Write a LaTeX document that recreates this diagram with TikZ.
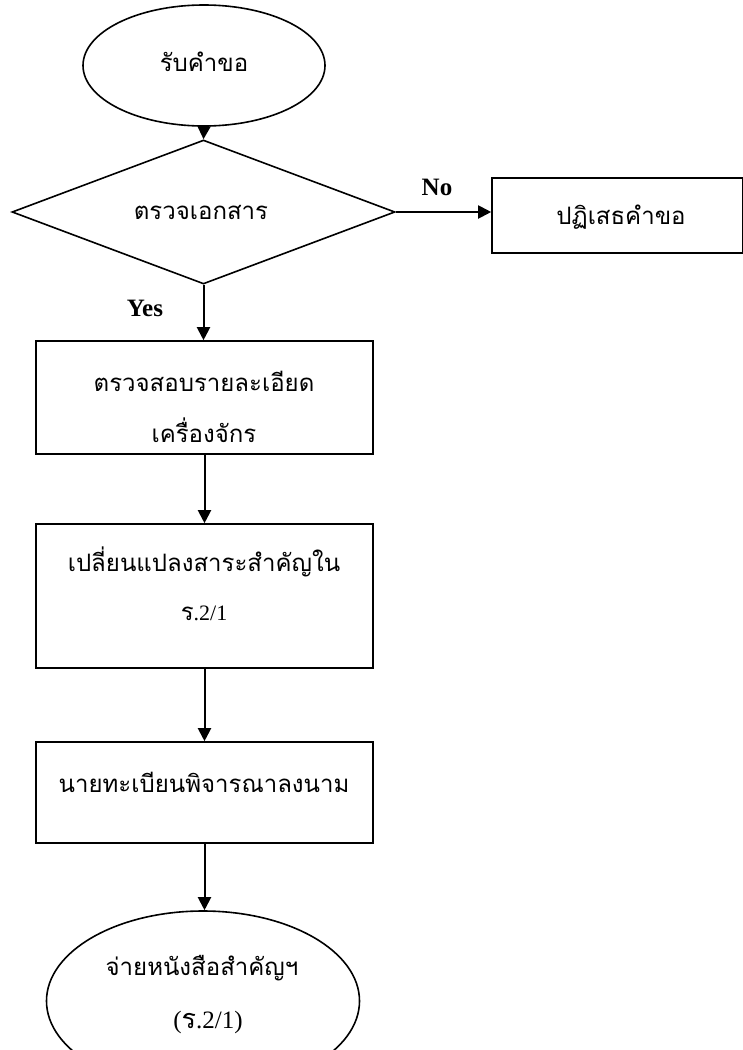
\documentclass[tikz,border=0pt]{standalone}
\usepackage{fontspec}
\setmainfont{Liberation Serif}
\newfontfamily\thai[Script=Thai]{Loma}
\usetikzlibrary{shapes.geometric,arrows.meta}
\tikzset{
  shapeline/.style={draw=black, line width=1.6pt},
  boxnode/.style={shapeline, rectangle, inner sep=0pt},
  ovalnode/.style={shapeline, ellipse, inner sep=0pt},
  decnode/.style={shapeline, diamond, inner sep=0pt},
  thaitext/.style={font=\thai\fontsize{24}{28}\selectfont, inner sep=0pt},
  lbl/.style={font=\bfseries\fontsize{25}{28}\selectfont, inner sep=0pt},
  flow/.style={line width=2pt, -{Triangle[width=13pt,length=13pt]}}
}
\begin{document}
\begin{tikzpicture}[x=1pt,y=-1pt]
\useasboundingbox (0,0) rectangle (743,1050);
\begin{scope}
\clip (0,0) rectangle (743,1050);
% shapes
\node[ovalnode, minimum width=242pt, minimum height=121pt] (start) at (204,65.5) {};
\node[decnode, minimum width=383pt, minimum height=144pt] (doc) at (203.5,212) {};
\node[boxnode, minimum width=251pt, minimum height=75pt] (rej) at (617.5,215.5) {};
\node[boxnode, minimum width=337pt, minimum height=113pt] (b1) at (204.5,397.5) {};
\node[boxnode, minimum width=337pt, minimum height=144pt] (b2) at (204.5,596) {};
\node[boxnode, minimum width=337pt, minimum height=101pt] (b3) at (204.5,792.5) {};
\node[ovalnode, minimum width=313pt, minimum height=180pt] (fin) at (203,1001) {};
% texts
\node[thaitext] (t0) at (204,62) {รับคำขอ};
\node[thaitext] (t1) at (201,212) {ตรวจเอกสาร};
\node[thaitext] (t2) at (621,217) {ปฏิเสธคำขอ};
\node[thaitext] (t3) at (204,381) {ตรวจสอบรายละเอียด};
\node[thaitext] (t4) at (204,430) {เครื่องจักร};
\node[thaitext] (t5) at (204,562) {เปลี่ยนแปลงสาระสำคัญใน};
\node[inner sep=0pt, font=\fontsize{22}{26}\selectfont] (t6) at (204,613)
  {{\thai\fontsize{24}{28}\selectfont ร}.2/1};
\node[thaitext] (t7) at (204,782) {นายทะเบียนพิจารณาลงนาม};
\node[thaitext] (t8) at (202,968) {จ่ายหนังสือสำคัญฯ};
\node[inner sep=0pt, font=\fontsize{25}{28}\selectfont] (t9) at (208,1022)
  {({\thai\fontsize{27}{30}\selectfont ร}.2/1)};
\node[lbl] (no) at (437,187) {No};
\node[lbl] (yes) at (145,308) {Yes};
% connectors
\draw[flow] (start.south) -- (doc.north);
\draw[flow] (doc.east) -- (doc.east -| rej.west);
\draw[flow] (doc.south) -- (doc.south |- b1.north);
\draw[flow] (b1.south) -- (b2.north);
\draw[flow] (b2.south) -- (b3.north);
\draw[flow] (b3.south) -- (b3.south |- fin.north);
\end{scope}
\end{tikzpicture}
\end{document}
